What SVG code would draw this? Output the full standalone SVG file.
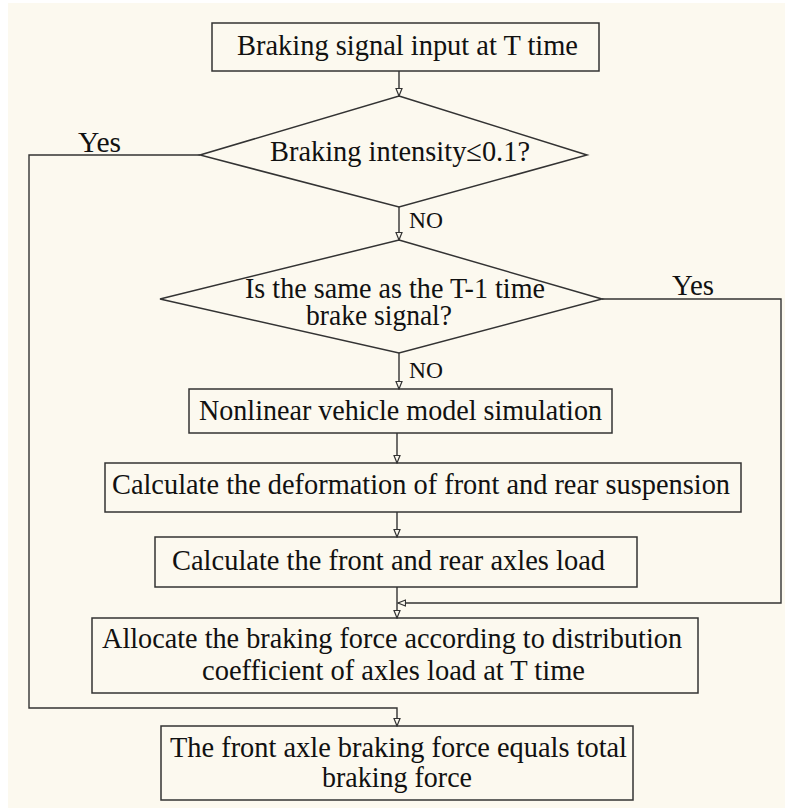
<svg xmlns="http://www.w3.org/2000/svg" width="785" height="808" viewBox="0 0 785 808">
<style>
.box{fill:none;stroke:#333;stroke-width:1.5}
.con{fill:none;stroke:#333;stroke-width:1.4}
.t{font-family:"Liberation Serif","Times New Roman",serif;font-size:30px;fill:#111}
.no{font-family:"Liberation Serif","Times New Roman",serif;font-size:24px;fill:#111}
</style>
<defs>
<marker id="arr" markerUnits="userSpaceOnUse" markerWidth="9" markerHeight="8" refX="8" refY="3.5" orient="auto">
<path d="M0.5,0.5 L8,3.5 L0.5,6.5 z" fill="#fcf9ef" stroke="#333" stroke-width="1.2"/>
</marker>
</defs>
<rect x="0" y="0" width="785" height="808" fill="#ffffff"/>
<rect x="8" y="3" width="777" height="805" fill="#fcf9ef"/>
<g id="connectors">
<line class="con" x1="399" y1="71" x2="399" y2="96" marker-end="url(#arr)"/>
<line class="con" x1="399" y1="207" x2="399" y2="240" marker-end="url(#arr)"/>
<polyline class="con" points="200,155 29,155 29,708 397,708 397,726" marker-end="url(#arr)"/>
<line class="con" x1="399" y1="353" x2="399" y2="389" marker-end="url(#arr)"/>
<polyline class="con" points="602,299 781,299 781,603 398,603" marker-end="url(#arr)"/>
<line class="con" x1="397" y1="433" x2="397" y2="463" marker-end="url(#arr)"/>
<line class="con" x1="397" y1="512" x2="397" y2="537" marker-end="url(#arr)"/>
<line class="con" x1="397" y1="587" x2="397" y2="618" marker-end="url(#arr)"/>
<text class="t" x="78" y="152" textLength="43" lengthAdjust="spacingAndGlyphs">Yes</text>
<text class="no" x="409" y="228" textLength="34" lengthAdjust="spacingAndGlyphs">NO</text>
<text class="t" x="672" y="295" textLength="42" lengthAdjust="spacingAndGlyphs">Yes</text>
<text class="no" x="409" y="378" textLength="34" lengthAdjust="spacingAndGlyphs">NO</text>
</g>
<g id="start">
<rect class="box" x="212" y="23" width="387" height="48"/>
<text class="t" x="237" y="55" textLength="341" lengthAdjust="spacingAndGlyphs">Braking signal input at T time</text>
</g>
<g id="decision1">
<polygon class="box" points="399,96 587,155 399,207 200,155"/>
<text class="t" x="270" y="161" textLength="260" lengthAdjust="spacingAndGlyphs">Braking intensity≤0.1?</text>
</g>
<g id="decision2">
<polygon class="box" points="399,240 602,299 399,353 160,299"/>
<text class="t" x="245" y="298" textLength="300" lengthAdjust="spacingAndGlyphs">Is the same as the T-1 time</text>
<text class="t" x="306" y="325" textLength="146" lengthAdjust="spacingAndGlyphs">brake signal?</text>
</g>
<g id="simulation">
<rect class="box" x="189" y="389" width="423" height="44"/>
<text class="t" x="199" y="420" textLength="403" lengthAdjust="spacingAndGlyphs">Nonlinear vehicle model simulation</text>
</g>
<g id="deformation">
<rect class="box" x="105" y="463" width="636" height="49"/>
<text class="t" x="112" y="494" textLength="618" lengthAdjust="spacingAndGlyphs">Calculate the deformation of front and rear suspension</text>
</g>
<g id="axleload">
<rect class="box" x="155" y="537" width="482" height="50"/>
<text class="t" x="172" y="570" textLength="433" lengthAdjust="spacingAndGlyphs">Calculate the front and rear axles load</text>
</g>
<g id="allocate">
<rect class="box" x="92" y="618" width="606" height="75"/>
<text class="t" x="102" y="648" textLength="580" lengthAdjust="spacingAndGlyphs">Allocate the braking force according to distribution</text>
<text class="t" x="202" y="680" textLength="383" lengthAdjust="spacingAndGlyphs">coefficient of axles load at T time</text>
</g>
<g id="frontaxle">
<rect class="box" x="161" y="726" width="472" height="74"/>
<text class="t" x="170" y="757" textLength="457" lengthAdjust="spacingAndGlyphs">The front axle braking force equals total</text>
<text class="t" x="322" y="787" textLength="150" lengthAdjust="spacingAndGlyphs">braking force</text>
</g>
</svg>
